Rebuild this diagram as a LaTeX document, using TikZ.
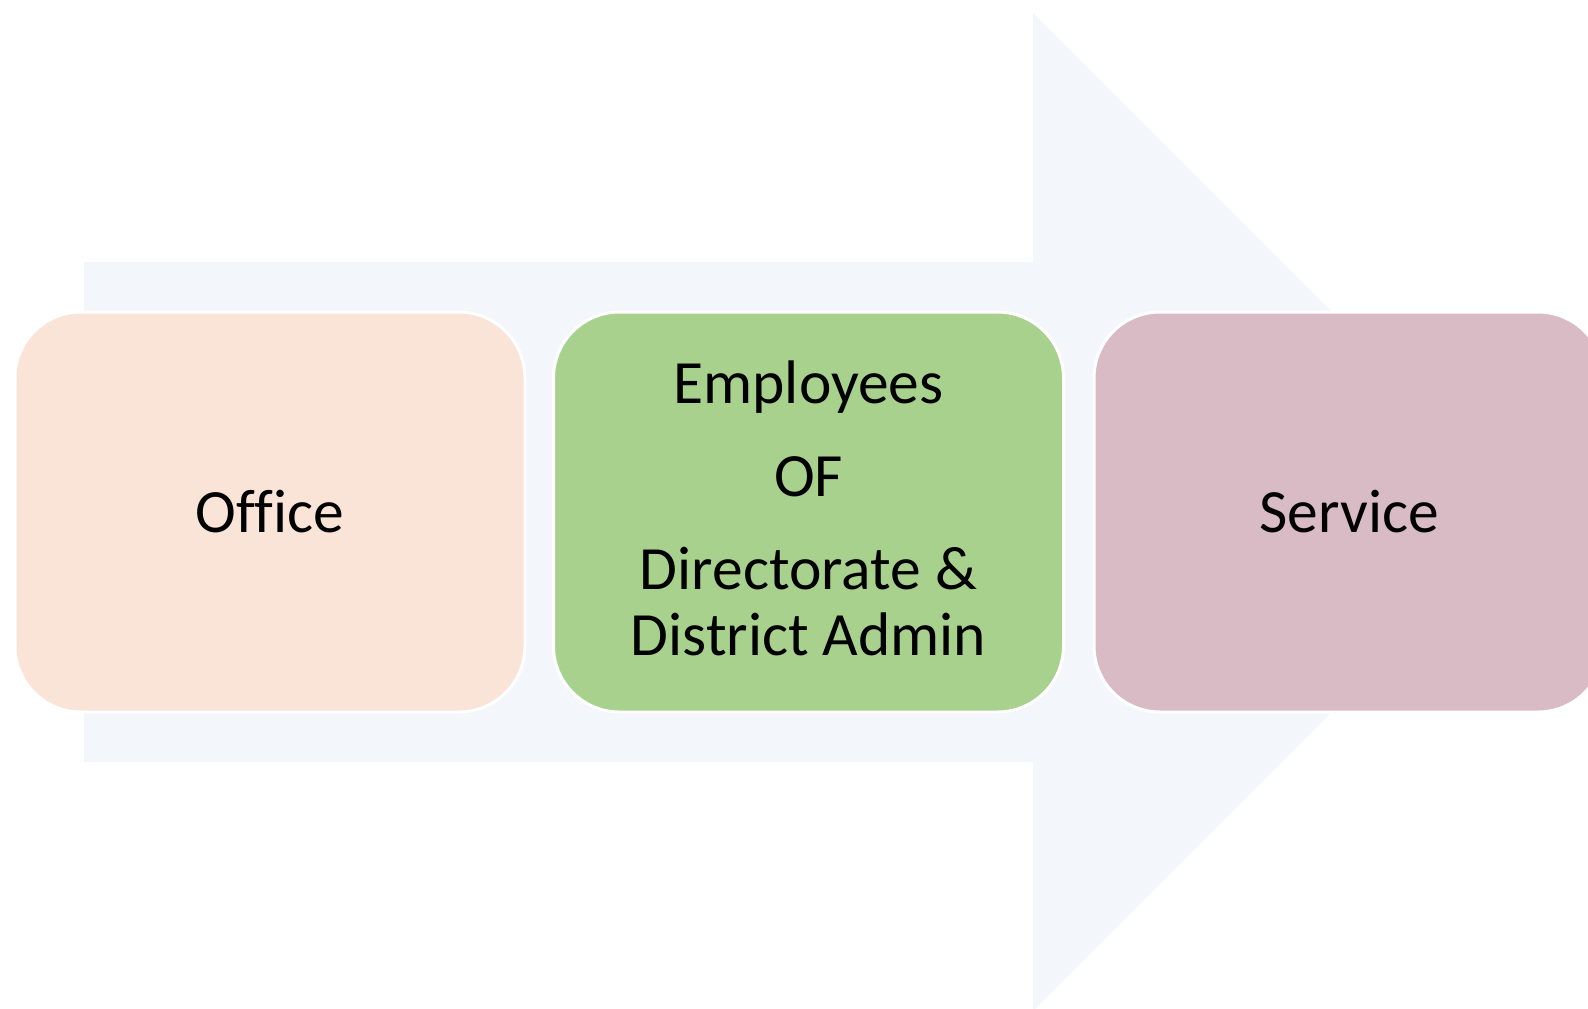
\documentclass[tikz,border=0pt]{standalone}
\usepackage{fontspec}
\setmainfont[Ligatures=NoCommon]{Carlito}
\definecolor{arrowfill}{HTML}{F3F6FB}
\definecolor{officefill}{HTML}{FAE4D7}
\definecolor{empfill}{HTML}{A9D18E}
\definecolor{servfill}{HTML}{D9BBC5}
\begin{document}
\begin{tikzpicture}[x=1pt,y=-1pt,
  txt/.style={font=\fontsize{61.5}{66}\selectfont},
  box/.style={rectangle, rounded corners=66pt, draw=white, line width=3pt,
    minimum width=510pt, minimum height=400pt, inner sep=0pt, align=center, txt}]
\useasboundingbox (0,0) rectangle (1588,1009);
\clip (0,0) rectangle (1588,1009);
\fill[arrowfill] (84,262) -- (1033,262) -- (1033,13) -- (1532,512) -- (1033,1011) -- (1033,762) -- (84,762) -- cycle;
\node[box, fill=officefill] (office) at (270,512) {Office};
\node[box, fill=empfill] (employees) at (808.5,512) {};
\node[txt, align=center, inner sep=0pt] (emptext) at (808.5,508.5)
  {Employees\\[27pt]OF\\[27pt]Directorate \&\\District Admin};
\node[box, fill=servfill] (service) at (1349,512) {Service};
\end{tikzpicture}
\end{document}
